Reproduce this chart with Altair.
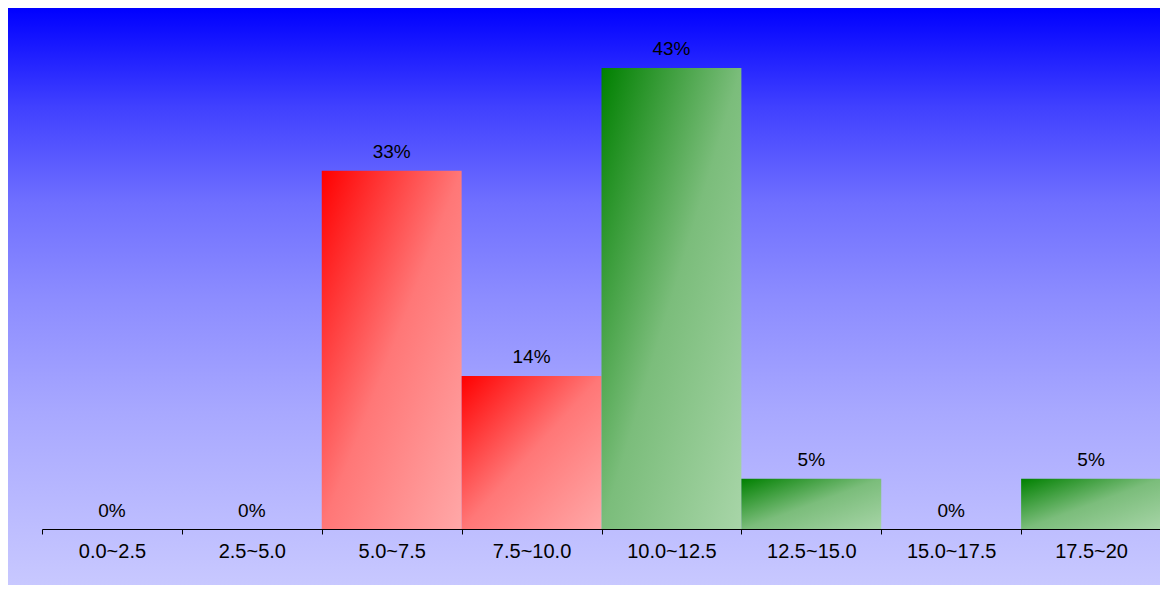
import altair as alt
import pandas as pd

categories = ["0.0~2.5", "2.5~5.0", "5.0~7.5", "7.5~10.0", "10.0~12.5", "12.5~15.0", "15.0~17.5", "17.5~20"]
percent = [0, 0, 33.33, 14.29, 42.86, 4.76, 0, 4.76]
labels = ["0%", "0%", "33%", "14%", "43%", "5%", "0%", "5%"]
tone = ["red", "red", "red", "red", "green", "green", "green", "green"]

df = pd.DataFrame({"cat": categories, "pct": percent, "label": labels, "tone": tone})

FONT = "Liberation Sans"
W, H = 1152, 577

bg_grad = alt.LinearGradient(
    gradient="linear", x1=0, y1=0, x2=0, y2=1,
    stops=[
        alt.GradientStop(color="#0000ff", offset=0),
        alt.GradientStop(color="#4040ff", offset=0.17),
        alt.GradientStop(color="#7070ff", offset=0.34),
        alt.GradientStop(color="#8c8cff", offset=0.5),
        alt.GradientStop(color="#a8a8ff", offset=0.7),
        alt.GradientStop(color="#c8c8ff", offset=1),
    ],
)

red_grad = alt.LinearGradient(
    gradient="linear", x1=0, y1=0, x2=1, y2=1,
    stops=[
        alt.GradientStop(color="#ff0000", offset=0),
        alt.GradientStop(color="#ff7777", offset=0.5),
        alt.GradientStop(color="#ffa8a8", offset=1),
    ],
)
green_grad = alt.LinearGradient(
    gradient="linear", x1=0, y1=0, x2=1, y2=1,
    stops=[
        alt.GradientStop(color="#008000", offset=0),
        alt.GradientStop(color="#7bbd7b", offset=0.5),
        alt.GradientStop(color="#a8d5a8", offset=1),
    ],
)

x_enc = alt.X(
    "cat:N", sort=categories,
    scale=alt.Scale(range=[34, 1153], paddingInner=0, paddingOuter=0),
    axis=alt.Axis(
        title=None, labelAngle=0, labelFontSize=20, labelFont=FONT, labelColor="#000000",
        domainColor="#000000", tickColor="#000000", tickSize=5, labelPadding=7,
        offset=-56, tickBand="extent", grid=False, labelOverlap=False, zindex=1,
    ),
)
y_enc = alt.Y("pct:Q", scale=alt.Scale(domain=[0, 42.86], range=[522, 60], nice=False, zero=True), axis=None)

background = alt.Chart(pd.DataFrame({"k": [0]})).mark_rect(color=bg_grad).encode(
    x=alt.value(0), x2=alt.value(W), y=alt.value(0), y2=alt.value(H)
)

base = alt.Chart(df)

red_bars = base.transform_filter(alt.datum.tone == "red").mark_bar(color=red_grad).encode(x=x_enc, y=y_enc)
green_bars = base.transform_filter(alt.datum.tone == "green").mark_bar(color=green_grad).encode(x=x_enc, y=y_enc)

text = base.mark_text(dy=-13, baseline="alphabetic", fontSize=19, font=FONT, color="#000000").encode(
    x=x_enc, y=y_enc, text="label:N"
)

chart = (
    alt.layer(background, red_bars, green_bars, text)
    .properties(width=W, height=H, padding=0, autosize=alt.AutoSizeParams(type="none"), background="#c8c8ff")
    .configure_view(stroke=None)
)

chart.save("out.html", embed_options={"renderer": "svg", "actions": False})
